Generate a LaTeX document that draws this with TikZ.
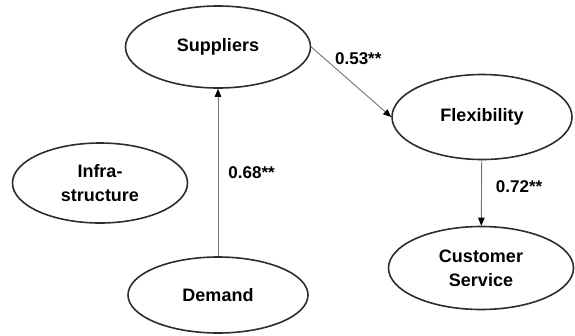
\documentclass[tikz,border=0pt]{standalone}
\definecolor{rimgray}{RGB}{45, 45, 45}
\definecolor{pathgray}{RGB}{115, 115, 115}
\usepackage{fontspec}
\setmainfont{Liberation Sans}
\usepackage{tikz}
\usetikzlibrary{shapes, arrows.meta, positioning}

\begin{document}
\begin{tikzpicture}[x=1pt, y=-1pt,
  construct/.style={ellipse, draw=rimgray, line width=1.6pt, minimum width=185pt, minimum height=82pt, inner sep=0pt, align=center, font=\fontsize{18}{24}\selectfont\bfseries},
  effect/.style={draw=pathgray, line width=0.9pt, -{Triangle[length=8pt, width=6.5pt, color=black]}},
  coef/.style={font=\fontsize{17}{18}\selectfont\bfseries, inner sep=1pt}]
  \useasboundingbox (0,0) rectangle (575,335);

  % Constructs
  \node[construct] (suppliers) at (218, 47) {Suppliers};
  \node[construct, minimum width=180pt, minimum height=85pt] (flexibility) at (482, 117) {Flexibility};
  \node[construct, minimum width=175pt, minimum height=80pt] (infra) at (100, 183) {Infra-\\structure};
  \node[construct, minimum width=180pt, minimum height=76pt] (demand) at (218, 295) {Demand};
  \node[construct, minimum width=185pt, minimum height=83pt] (service) at (481, 268) {Customer\\Service};

  % Paths
  \draw[effect] (demand) -- (suppliers) node[coef, midway, right=9pt] {0.68**};
  \draw[effect] (suppliers.east) -- (flexibility.west) node[coef, pos=0.28, above right] {0.53**};
  \draw[effect] (flexibility) -- (service) node[coef, pos=0.4, right=13pt] {0.72**};
\end{tikzpicture}
\end{document}
